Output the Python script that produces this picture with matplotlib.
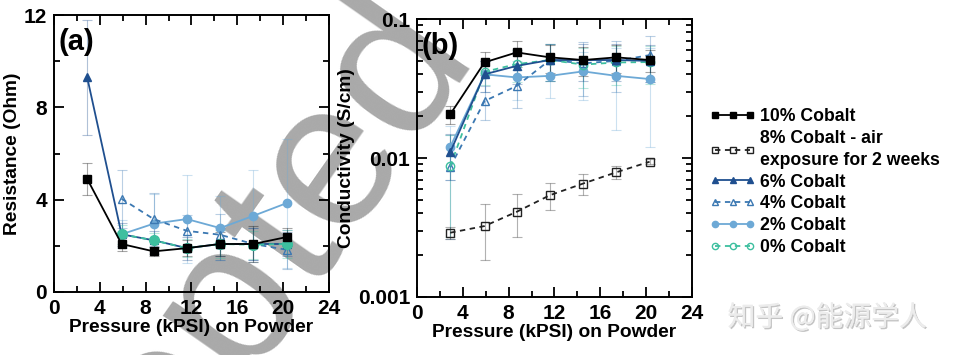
import matplotlib
matplotlib.use("Agg")
import matplotlib.pyplot as plt
import matplotlib.ticker as mticker
import matplotlib.patheffects as pe
import numpy as np

plt.rcParams['font.family'] = ['Liberation Sans', 'DejaVu Sans']
plt.rcParams['font.weight'] = 'bold'

# pressure points (kPSI)
x_all = [2.9, 5.9, 8.7, 11.6, 14.5, 17.4, 20.3]
x_part = [5.9, 8.7, 11.6, 14.5, 17.4, 20.3]

# panel (a) resistance (Ohm)
res_10 = [4.9, 2.08, 1.76, 1.9, 2.08, 2.08, 2.38]
err_10 = [0.7, 0.3, 0.2, 0.35, 0.5, 0.8, 0.4]
res_6 = [9.3, 2.5, 2.24, 1.9, 2.08, 2.08, 2.08]
err_6 = [2.5, 0.5, 0.4, 0.5, 0.7, 0.7, 0.5]
res_4 = [4.04, 3.16, 2.65, 2.48, 2.08, 1.83]
err_4 = [1.25, 1.15, 0.7, 0.9, 0.7, 0.85]
res_2 = [2.5, 2.96, 3.16, 2.77, 3.3, 3.85]
err_2 = [0.6, 1.3, 1.9, 1.4, 2.0, 2.8]
res_0 = [2.5, 2.24, 1.9, 2.08, 2.05, 2.08]
err_0 = [0.4, 0.3, 0.4, 0.6, 0.6, 0.6]

# panel (b) conductivity (S/cm)
cond_10 = [0.0206, 0.0488, 0.0575, 0.053, 0.0507, 0.053, 0.0507]
errc_10 = [0.003, 0.009, 0.012, 0.012, 0.012, 0.012, 0.009]
cond_8 = [0.0029, 0.00324, 0.0041, 0.0054, 0.00655, 0.0079, 0.0094]
errc_8 = [0.0003, 0.0014, 0.0014, 0.0012, 0.0011, 0.0008, 0.0004]
cond_6 = [0.011, 0.040, 0.046, 0.0507, 0.0507, 0.0507, 0.050]
errc_6 = [0.004, 0.01, 0.012, 0.015, 0.015, 0.015, 0.015]
cond_4 = [0.0086, 0.0257, 0.033, 0.0507, 0.048, 0.05, 0.055]
errc_4 = [0.006, 0.007, 0.01, 0.015, 0.02, 0.02, 0.02]
cond_2 = [0.012, 0.040, 0.038, 0.039, 0.042, 0.039, 0.037]
errc_2 = [0.005, 0.01, 0.012, 0.012, 0.016, 0.023, 0.025]
cond_0 = [0.0087, 0.0417, 0.0474, 0.0507, 0.047, 0.0487, 0.049]
errc_0 = [0.006, 0.008, 0.012, 0.015, 0.015, 0.015, 0.015]

labels = ['10% Cobalt', '8% Cobalt - air\nexposure for 2 weeks', '6% Cobalt',
          '4% Cobalt', '2% Cobalt', '0% Cobalt']

c10 = '#000000'
c8 = '#222222'
c6 = '#1f4f8f'
c4 = '#3b78b2'
c2 = '#6da9d6'
c0 = '#3dbf9f'

fig = plt.figure(figsize=(9.55, 3.55), dpi=100)
ax1 = fig.add_axes([0.0565, 0.1775, 0.288, 0.780])
ax2 = fig.add_axes([0.4366, 0.1634, 0.288, 0.783])
for ax in (ax1, ax2):
    ax.set_facecolor('none')

# watermarks
fig.text(0.194, -0.076, 'Accepted', rotation=55, rotation_mode='anchor',
         ha='center', va='center', fontsize=150, fontweight='normal',
         color='#a9a9a9', zorder=-1)
fig.text(0.866, 0.105, '知乎 @能源学人', fontsize=20, fontweight='normal',
         color='#ececec', ha='center', va='center',
         family=['Noto Sans CJK SC', 'DejaVu Sans'],
         path_effects=[pe.withSimplePatchShadow(offset=(1, -1), shadow_rgbFace='#8a8a8a', alpha=0.5),
                       pe.Normal()])


def draw(ax, x, y, e, color, marker, filled, dashed, ms=6):
    ax.errorbar(x, y, yerr=e, fmt='none', ecolor=color, alpha=0.35,
                elinewidth=0.8, capsize=3.5, capthick=0.8, zorder=2)
    ls = (0, (3, 2.5)) if dashed else '-'
    line, = ax.plot(x, y, linestyle=ls, color=color, lw=1.3, marker=marker, ms=ms,
                    mfc=color if filled else 'none', mec=color, mew=1.0, zorder=3)
    return line


# panel (a)
draw(ax1, x_part, res_2, err_2, c2, 'o', True, False)
draw(ax1, x_part, res_4, err_4, c4, '^', False, True)
draw(ax1, x_all, res_6, err_6, c6, '^', True, False)
draw(ax1, x_part, res_0, err_0, c0, 'o', True, True, ms=7)
draw(ax1, x_all, res_10, err_10, c10, 's', True, False)

# panel (b)
h2 = draw(ax2, x_all, cond_2, errc_2, c2, 'o', True, False)
h4 = draw(ax2, x_all, cond_4, errc_4, c4, '^', False, True)
h0 = draw(ax2, x_all, cond_0, errc_0, c0, 'o', False, True)
h6 = draw(ax2, x_all, cond_6, errc_6, c6, '^', True, False)
h8 = draw(ax2, x_all, cond_8, errc_8, c8, 's', False, True)
h10 = draw(ax2, x_all, cond_10, errc_10, c10, 's', True, False)

for ax in (ax1, ax2):
    ax.set_xlim(0, 24)
    ax.xaxis.set_major_locator(mticker.MultipleLocator(4))
    ax.xaxis.set_minor_locator(mticker.MultipleLocator(2))
    ax.tick_params(which='both', direction='in', top=True, right=True,
                   labelsize=15, width=1.3)
    ax.tick_params(which='major', length=7, pad=5)
    ax.tick_params(which='minor', length=4)
    for s in ax.spines.values():
        s.set_linewidth(1.4)
    ax.set_xlabel('Pressure (kPSI) on Powder', fontsize=13.8, fontweight='bold', labelpad=1)

ax1.set_ylim(0, 12)
ax1.yaxis.set_major_locator(mticker.MultipleLocator(4))
ax1.yaxis.set_minor_locator(mticker.MultipleLocator(2))
ax1.set_ylabel('Resistance (Ohm)', fontsize=13.8, fontweight='bold', labelpad=2)
ax1.text(0.015, 0.955, '(a)', transform=ax1.transAxes, fontsize=21,
         fontweight='bold', va='top', ha='left')

ax2.set_yscale('log')
ax2.set_ylim(0.001, 0.1)
ax2.yaxis.set_major_formatter(mticker.FuncFormatter(lambda v, p: '%g' % v))
ax2.yaxis.set_minor_formatter(mticker.NullFormatter())
ax2.set_ylabel('Conductivity (S/cm)', fontsize=13.8, fontweight='bold', labelpad=2)
ax2.text(0.015, 0.955, '(b)', transform=ax2.transAxes, fontsize=21,
         fontweight='bold', va='top', ha='left')

leg = fig.legend([h10, h8, h6, h4, h2, h0], labels, loc='upper left',
                 bbox_to_anchor=(0.727, 0.741), frameon=False, numpoints=3,
                 handlelength=2.55, handletextpad=0.25, labelspacing=0.27,
                 prop={'size': 12.7, 'weight': 'bold'}, markerscale=0.75)
for t in leg.get_texts():
    t.set_linespacing(1.4)

fig.savefig('out.png', dpi=100)
